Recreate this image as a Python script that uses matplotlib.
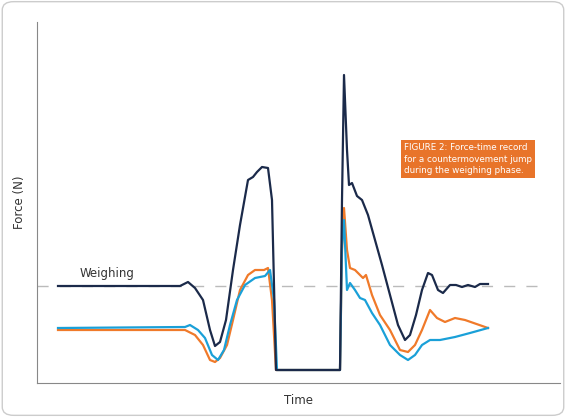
import matplotlib
matplotlib.use("Agg")
import matplotlib.pyplot as plt
from matplotlib.patches import FancyBboxPatch

H = 417
dark_x = [58,180,188,195,203,210,215,220,226,233,240,248,253,257,262,268,272,276,340,342,344,347,349,352,357,362,368,375,382,390,398,405,410,416,422,428,432,438,443,450,456,462,468,475,480,488]
dark_y = [286,286,282,288,300,330,346,342,320,270,225,180,177,172,167,168,200,370,370,200,75,150,185,183,196,200,215,240,265,295,325,340,335,315,290,273,275,290,293,285,285,287,285,287,284,284]
orange_x = [58,185,195,203,210,215,220,227,233,240,248,255,264,268,272,276,340,342,344,347,350,355,360,363,366,372,380,390,400,408,415,422,430,437,445,455,465,488]
orange_y = [330,330,335,345,360,362,358,345,320,290,275,270,270,268,300,370,370,250,208,250,268,270,275,278,275,295,315,330,350,352,345,330,310,318,322,318,320,328]
blue_x = [58,185,190,198,205,212,218,224,230,237,245,255,265,270,274,277,340,342,344,347,350,355,360,365,372,380,390,400,408,415,422,430,440,455,470,488]
blue_y = [328,327,325,330,338,355,360,350,325,300,285,278,276,270,300,370,370,245,220,290,283,290,298,300,313,325,345,355,360,355,345,340,340,337,333,328]
weigh_level = 286

fig = plt.figure(figsize=(5.66, 4.17), dpi=100)
frame = FancyBboxPatch((0.004, 0.004), 0.992, 0.992, boxstyle="round,pad=0,rounding_size=0.02",
                       transform=fig.transFigure, fc="white", ec="#cccccc", lw=1, zorder=-10)
fig.patches.append(frame)
ax = fig.add_axes([37/566, (H-383)/H, (560-37)/566, (383-22)/H])
ax.set_zorder(5)
ax.set_xlim(37, 560)
ax.set_ylim(H-383, H-22)
ax.patch.set_alpha(0)
for s in ["top", "right"]:
    ax.spines[s].set_visible(False)
for s in ["left", "bottom"]:
    ax.spines[s].set_color("#888888")
ax.set_xticks([]); ax.set_yticks([])

ax.plot([37, 540], [H-weigh_level]*2, color="#bbbbbb", lw=1, dashes=(8, 8))
ax.plot(orange_x, [H-v for v in orange_y], color="#f07a2a", lw=1.6)
ax.plot(blue_x, [H-v for v in blue_y], color="#1aa0d8", lw=1.6)
ax.plot(dark_x, [H-v for v in dark_y], color="#1b2a4a", lw=1.6)

ax.text(80, H-274, "Weighing", fontsize=8.5, color="#333333", va="center")
ax.set_xlabel("Time", fontsize=8.5, color="#333333", labelpad=8)
ax.set_ylabel("Force (N)", fontsize=8.5, color="#333333", labelpad=8)
ax.text(404, H-159, "FIGURE 2: Force-time record\nfor a countermovement jump\nduring the weighing phase.",
        fontsize=6.3, color="white", va="center", ha="left", linespacing=1.3,
        bbox=dict(boxstyle="square,pad=0.35", fc="#e8742a", ec="none"))

fig.savefig("out.png", dpi=100)
